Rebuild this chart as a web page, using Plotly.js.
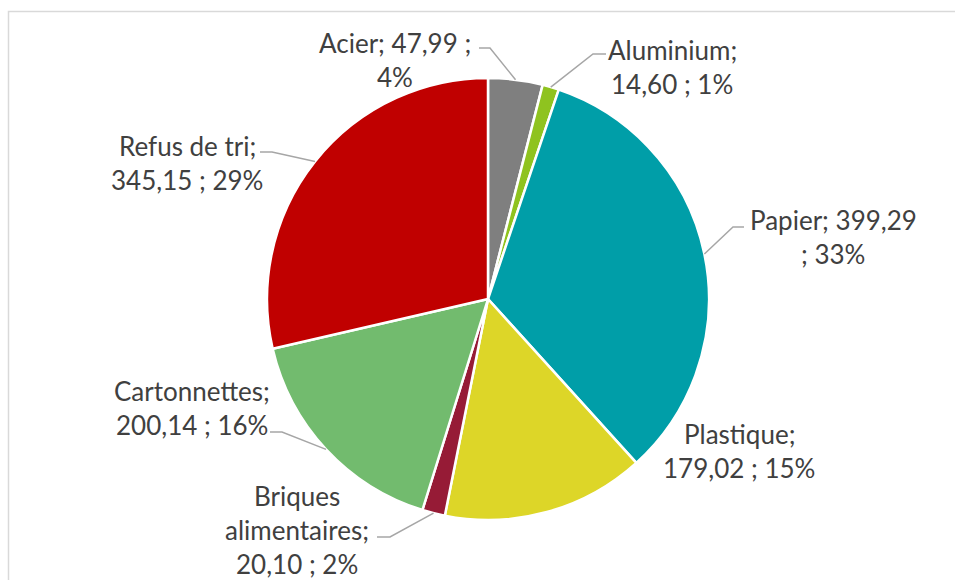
<!DOCTYPE html>
<html>
<head>
<meta charset="utf-8">
<script src="https://cdn.plot.ly/plotly-3.0.1.min.js"></script>
<style>html,body{margin:0;padding:0;background:#fff;}#chart{width:955px;height:580px;}</style>
</head>
<body>
<div id="chart"></div>
<script>
// ---- data ----
const categories = ["Acier", "Aluminium", "Papier", "Plastique", "Briques alimentaires", "Cartonnettes", "Refus de tri"];
const tonnages = [47.99, 14.60, 399.29, 179.02, 20.10, 200.14, 345.15];
const percents = [4, 1, 33, 15, 2, 16, 29];

// ---- style ----
const colors = ["#7f7f7f", "#8fc31f", "#009ea8", "#ddd628", "#961b36", "#72bb6e", "#c00000"];
const W = 955, H = 580;
const CX = 488, CY = 299, R = 221;
// label block centre (px), tokens per line, leader line start + elbow (px) or null
const labelStyle = [
  {x: 395, y: 43, lines: [3, 1], leader: [[479, 48], [490, 48]]},
  {x: 672, y: 50, lines: [1, 3], leader: [[606, 54], [593, 54]]},
  {x: 833, y: 220, lines: [2, 2], leader: [[744, 227], [733, 227]]},
  {x: 739, y: 434, lines: [1, 3], leader: null},
  {x: 297, y: 496, lines: [1, 1, 3], leader: [[377, 537], [390, 537]]},
  {x: 192, y: 391, lines: [1, 3], leader: [[270, 432], [282, 432]]},
  {x: 187, y: 146, lines: [3, 3], leader: [[260, 152], [272, 152]]}
];
const LINE_GAP = 34;
const FONT = {family: "Lato, 'Open Sans', sans-serif", size: 26, color: "#404040"};

const px = v => v / W;
const py = v => 1 - v / H;

const total = tonnages.reduce((a, b) => a + b, 0);
const annotations = [];
const shapes = [];

// chart border
shapes.push({type: "rect", xref: "paper", yref: "paper",
  x0: px(8.5), x1: 1.05, y0: py(11.5), y1: -0.05,
  line: {color: "#d9d9d9", width: 1.5}, fillcolor: "rgba(0,0,0,0)", layer: "below"});

let cum = 0;
tonnages.forEach((v, i) => {
  const mid = (cum + v / 2) / total;
  cum += v;
  const ang = mid * 2 * Math.PI;
  const ex = CX + R * Math.sin(ang);
  const ey = CY - R * Math.cos(ang);
  const st = labelStyle[i];
  const valStr = v.toFixed(2).replace(".", ",");
  const nameTokens = categories[i].split(" ");
  nameTokens[nameTokens.length - 1] += ";";
  const tokens = nameTokens.concat([valStr, ";", percents[i] + "%"]);
  let k = 0;
  st.lines.forEach((n, li) => {
    const txt = tokens.slice(k, k + n).join(" ");
    k += n;
    annotations.push({xref: "paper", yref: "paper", x: px(st.x), y: py(st.y + li * LINE_GAP),
      text: txt, showarrow: false, xanchor: "center", yanchor: "middle", font: FONT});
  });
  if (st.leader) {
    const [a, b] = st.leader;
    shapes.push({type: "path", xref: "paper", yref: "paper",
      path: `M ${px(a[0])} ${py(a[1])} L ${px(b[0])} ${py(b[1])} L ${px(ex)} ${py(ey)}`,
      line: {color: "#a6a6a6", width: 1.5}});
  }
});

const trace = {
  type: "pie",
  values: tonnages,
  labels: categories,
  sort: false,
  direction: "clockwise",
  rotation: 0,
  textinfo: "none",
  hoverinfo: "none",
  marker: {colors: colors, line: {color: "#ffffff", width: 2.5}},
  domain: {x: [px(CX - R), px(CX + R)], y: [py(CY + R), py(CY - R)]},
  automargin: false
};

const layout = {
  width: W, height: H,
  margin: {l: 0, r: 0, t: 0, b: 0},
  paper_bgcolor: "#ffffff",
  showlegend: false,
  annotations: annotations,
  shapes: shapes
};

Plotly.newPlot("chart", [trace], layout, {displayModeBar: false, staticPlot: true});
</script>
</body>
</html>
